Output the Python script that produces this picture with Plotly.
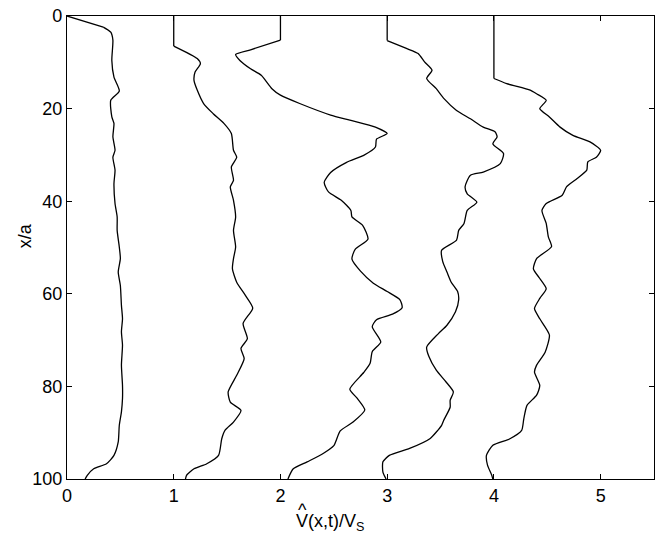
import plotly.graph_objects as go

# curve data: position x/a (y axis) and normalised velocity (x axis)
y1 = [0, 2.4, 3.5, 5.2, 9.6, 13.2, 16.2, 18.2, 21.8, 23.2, 26.1, 29, 30.5, 33.3, 36.2, 40.5, 43.4, 46.3, 49.9,
      52.4, 55.3, 58.2, 62.5, 65.4, 68.2, 71.1, 75.4, 79.8, 82.6, 85.5, 88.4, 92, 94.9, 96.7, 97.8, 99.2, 100]
v1 = [0, 0.34, 0.41, 0.43, 0.42, 0.44, 0.49, 0.41, 0.42, 0.44, 0.43, 0.45, 0.43, 0.45, 0.44, 0.45, 0.47, 0.47, 0.49,
      0.50, 0.48, 0.50, 0.51, 0.52, 0.51, 0.52, 0.51, 0.52, 0.52, 0.51, 0.49, 0.48, 0.44, 0.37, 0.25, 0.19, 0.17]

y2 = [0, 6.5, 9.2, 10.3, 12.1, 13.9, 16.0, 18.9, 21.1, 23.2, 25.4, 29, 30.5, 32.6, 35.5, 36.9, 39.8, 43.4, 46.3,
      49.9, 52.4, 54.6, 57.5, 60.3, 63.1, 66.4, 69.7, 71.8, 74, 77.6, 81.2, 83.4, 85.2, 87.7, 89.5, 91.3, 94.9,
      96.7, 97.8, 99.2, 100]
v2 = [1.0, 1.0, 1.22, 1.25, 1.20, 1.19, 1.22, 1.28, 1.37, 1.47, 1.54, 1.56, 1.59, 1.54, 1.56, 1.53, 1.56, 1.58, 1.56,
      1.58, 1.56, 1.55, 1.59, 1.67, 1.74, 1.65, 1.69, 1.63, 1.66, 1.59, 1.51, 1.53, 1.63, 1.56, 1.48, 1.45, 1.42,
      1.31, 1.19, 1.12, 1.11]

y3 = [0, 5.2, 7.3, 8.3, 9.6, 11.4, 12.8, 15.7, 17.1, 18.9, 21.4, 22.5, 24.0, 25.4, 26.6, 28.3, 30.1, 31.6, 33.8,
      35.9, 38.0, 39.8, 42.0, 43.4, 45.2, 48.2, 50.4, 52.5, 55.1, 57.7, 59.5, 61.3, 63.0, 64.4, 65.6, 67.1, 70.4,
      72.5, 75.0, 77.0, 80.6, 82.6, 85.1, 87.7, 89.6, 92.8, 94.5, 96.3, 97.8, 100]
v3 = [2.0, 2.0, 1.72, 1.58, 1.62, 1.72, 1.82, 1.92, 2.0, 2.18, 2.47, 2.65, 2.89, 3.0, 2.90, 2.89, 2.78, 2.62, 2.47,
      2.41, 2.45, 2.57, 2.66, 2.67, 2.77, 2.82, 2.70, 2.67, 2.75, 2.87, 3.0, 3.12, 3.14, 3.05, 2.90, 2.86, 2.94,
      2.86, 2.84, 2.78, 2.65, 2.72, 2.79, 2.68, 2.56, 2.50, 2.40, 2.25, 2.12, 2.07]

y4 = [0, 5.3, 7.0, 8.1, 9.9, 11.7, 13.5, 15.7, 17.8, 20.4, 22.2, 24.0, 25.0, 26.1, 27.6, 29.7, 31.9, 33.7, 34.4,
      36.9, 38.4, 40.2, 42.0, 44.8, 46.3, 48.4, 50.6, 53.0, 55.3, 57.5, 59.5, 61.3, 63.9, 66.8, 68.6, 71.5, 73.5,
      76.5, 79.0, 81.2, 83.0, 84.5, 87.3, 88.4, 91.3, 93.4, 94.9, 96.3, 98.5, 100]
v4 = [3.0, 3.0, 3.18, 3.29, 3.35, 3.42, 3.37, 3.46, 3.53, 3.65, 3.78, 3.90, 4.01, 4.03, 3.99, 4.09, 4.06, 3.90, 3.78,
      3.73, 3.75, 3.84, 3.75, 3.72, 3.67, 3.65, 3.51, 3.52, 3.56, 3.60, 3.66, 3.67, 3.64, 3.56, 3.48, 3.37, 3.39,
      3.46, 3.55, 3.62, 3.59, 3.59, 3.53, 3.51, 3.40, 3.21, 3.02, 2.96, 2.96, 2.99]

y5 = [0, 13.5, 14.6, 16.0, 16.8, 18.2, 20.0, 21.8, 24.0, 25.8, 27.2, 29.0, 30.5, 31.5, 33.3, 35.1, 36.9, 38.7,
      40.5, 42.0, 44.8, 47.7, 49.8, 52.4, 54.6, 56.7, 58.9, 61.0, 63.2, 65.4, 68.9, 72.6, 75.4, 76.9, 79.8, 81.9,
      84.1, 87.0, 89.5, 91.3, 92.7, 94.9, 97.0, 99.2, 100]
v5 = [4.0, 4.0, 4.12, 4.34, 4.40, 4.49, 4.43, 4.52, 4.62, 4.74, 4.90, 5.0, 4.96, 4.88, 4.87, 4.78, 4.68, 4.64,
      4.49, 4.45, 4.49, 4.51, 4.54, 4.40, 4.37, 4.43, 4.49, 4.43, 4.38, 4.43, 4.52, 4.48, 4.40, 4.38, 4.43, 4.40,
      4.31, 4.28, 4.26, 4.15, 3.99, 3.93, 3.94, 3.98, 3.99]

x_ticks = [0, 1, 2, 3, 4, 5]
y_ticks = [0, 20, 40, 60, 80, 100]

LINE = dict(color="black", width=1.3)
fig = go.Figure()
for vv, yy in [(v1, y1), (v2, y2), (v3, y3), (v4, y4), (v5, y5)]:
    # initial straight segment, then the smooth profile
    fig.add_trace(go.Scatter(x=vv[:2], y=yy[:2], mode="lines", line=LINE,
                             showlegend=False, hoverinfo="skip"))
    fig.add_trace(go.Scatter(x=vv[1:], y=yy[1:], mode="lines",
                             line=dict(**LINE, shape="spline", smoothing=0.6),
                             showlegend=False, hoverinfo="skip"))

FONT = "Liberation Sans, Arial, Helvetica, sans-serif"
font = dict(family=FONT, size=18, color="black")
fig.update_layout(
    width=660, height=536,
    margin=dict(l=67, r=6, t=16, b=57),
    paper_bgcolor="white", plot_bgcolor="white",
    font=font,
    xaxis=dict(range=[0, 5.5], tickvals=x_ticks, ticks="inside", ticklen=5, tickcolor="black",
               showline=True, linecolor="black", linewidth=1.2, mirror="ticks",
               showgrid=False, zeroline=False),
    yaxis=dict(range=[100, 0], tickvals=y_ticks, ticks="inside", ticklen=5, tickcolor="black",
               showline=True, linecolor="black", linewidth=1.2, mirror="ticks",
               showgrid=False, zeroline=False),
    annotations=[
        dict(text="V(x,t)/V<sub>S</sub>", xref="paper", yref="paper", x=0.448, y=-0.064,
             xanchor="center", yanchor="top", showarrow=False, font=font),
        dict(text="^", xref="paper", yref="paper", x=0.402, y=-0.041,
             xanchor="center", yanchor="top", showarrow=False, font=dict(family=FONT, size=18, color="black")),
        dict(text="x/a", xref="paper", yref="paper", x=-0.071, y=0.525, textangle=-90,
             xanchor="center", yanchor="middle", showarrow=False, font=font),
    ],
)
fig.write_html("out.html")
